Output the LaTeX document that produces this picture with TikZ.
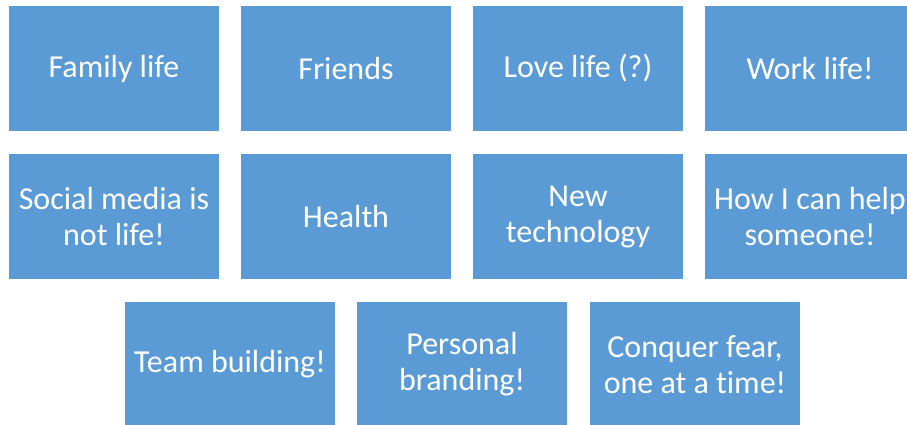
\documentclass[tikz,border=0pt]{standalone}
\usepackage{fontspec}
\setmainfont{Carlito}[Ligatures={NoCommon}]
\definecolor{tileblue}{HTML}{5B9BD5}
\tikzstyle{tile} = [align=center,fill=tileblue,text=white,font=\fontsize{32}{36}\selectfont,rectangle,minimum width=210pt,minimum height=125pt,inner sep=0pt,text centered]

\begin{document}
\begin{tikzpicture}[node distance=232pt]
	\clip (0,0) rectangle (907pt,-424pt);
	% first row
	\node (family) [tile] at (114pt,-68.5pt) {Family life};
	\node (friends) [tile,right of=family] {Friends};
	\node (love) [tile,right of=friends] {Love life (?)};
	\node (work) [tile,right of=love] {Work life!};
	% second row
	\node (social) [tile,below of=family,node distance=148pt] {Social media is\\not life!};
	\node (health) [tile,right of=social] {Health};
	\node (tech) [tile,right of=health] {New\\technology};
	\node (help) [tile,right of=tech] {How I can help\\someone!};
	% third row
	\node (team) [tile,below of=social,node distance=148pt,xshift=116pt] {Team building!};
	\node (brand) [tile,right of=team] {Personal\\branding!};
	\node (fear) [tile,right of=brand,xshift=1pt] {Conquer fear,\\one at a time!};
\end{tikzpicture}
\end{document}
